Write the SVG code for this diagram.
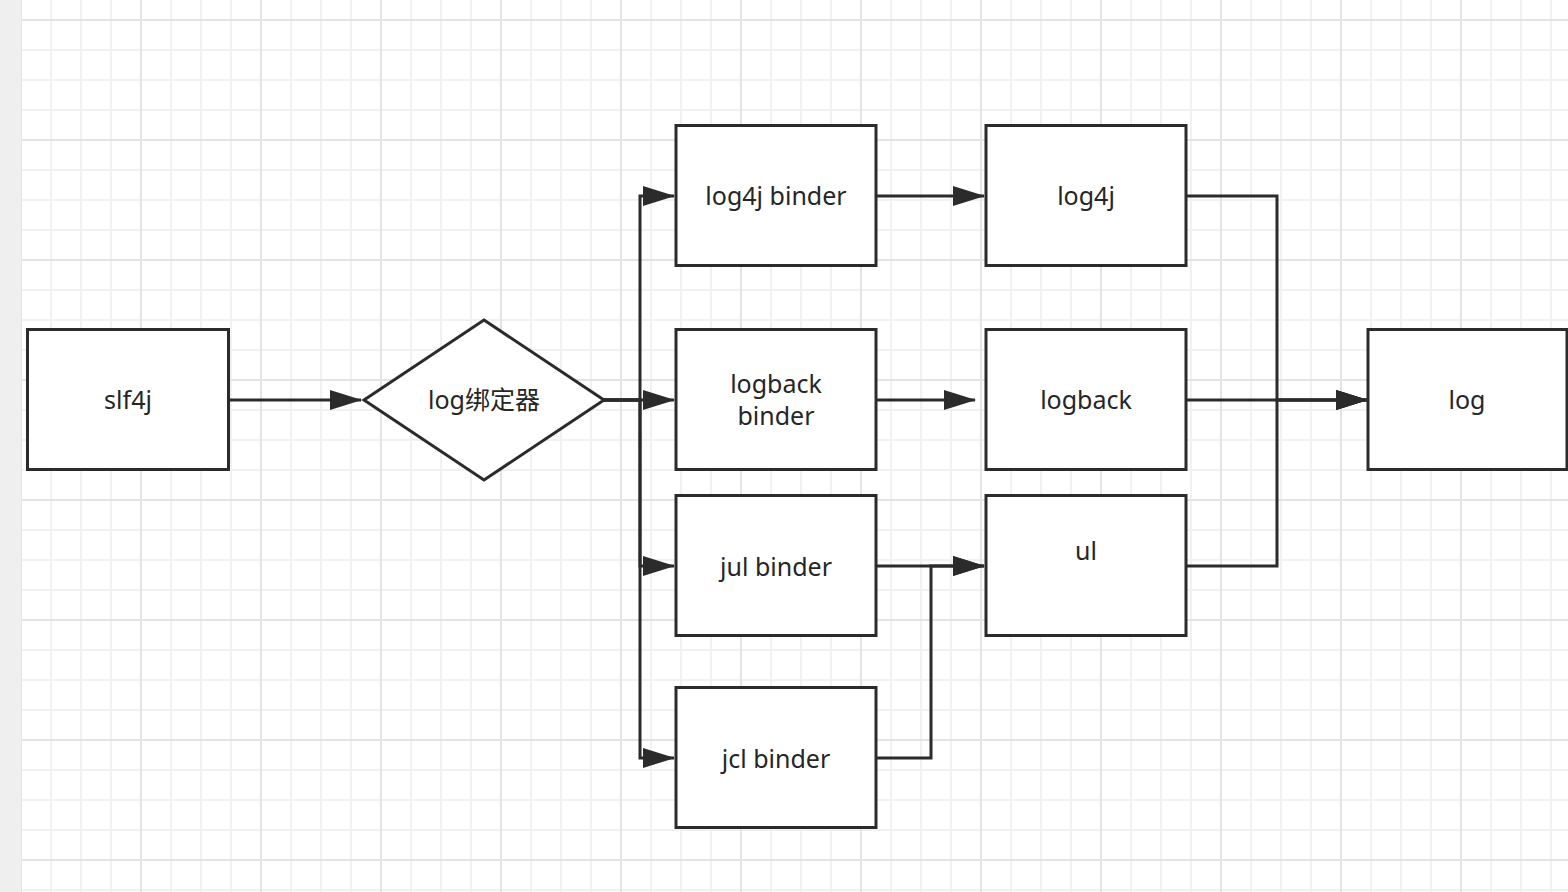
<svg xmlns="http://www.w3.org/2000/svg" width="1568" height="892" viewBox="0 0 1568 892">
<style>
.box{fill:#fff;stroke:#2b2b2b;stroke-width:3}
.lbl{font-family:"Noto Sans","Noto Sans CJK SC",sans-serif;font-size:25px;fill:#262626;text-anchor:middle}
.edge{fill:none;stroke:#2b2b2b;stroke-width:3;stroke-linejoin:miter}
.arr{marker-end:url(#ah)}
</style>
<defs>
<pattern id="grid" patternUnits="userSpaceOnUse" x="20" y="19" width="120" height="120">
<rect x="0" y="0" width="120" height="120" fill="#fff"/>
<rect x="30" y="0" width="2" height="120" fill="#f1f1f1"/>
<rect x="60" y="0" width="2" height="120" fill="#f1f1f1"/>
<rect x="90" y="0" width="2" height="120" fill="#f1f1f1"/>
<rect x="0" y="30" width="120" height="2" fill="#f1f1f1"/>
<rect x="0" y="60" width="120" height="2" fill="#f1f1f1"/>
<rect x="0" y="90" width="120" height="2" fill="#f1f1f1"/>
<rect x="0" y="0" width="2" height="120" fill="#e4e4e4"/>
<rect x="0" y="0" width="120" height="2" fill="#e4e4e4"/>
</pattern>
<marker id="ah" viewBox="0 0 32 20" refX="31" refY="10" markerWidth="32" markerHeight="20" markerUnits="userSpaceOnUse" orient="auto">
<path d="M0,0 L32,10 L0,20 Z" fill="#2b2b2b"/>
</marker>
</defs>
<rect x="0" y="0" width="1568" height="892" fill="#fff"/>
<rect x="21" y="0" width="1547" height="892" fill="url(#grid)"/>
<rect x="0" y="0" width="21" height="892" fill="#efefef"/>

<g id="connectors">
<path class="edge arr" d="M228,400 H361"/>
<path class="edge arr" d="M603,400 H640 V196 H674"/>
<path class="edge arr" d="M603,400 H674"/>
<path class="edge arr" d="M603,400 H640 V566 H674"/>
<path class="edge arr" d="M603,400 H640 V758 H674"/>
<path class="edge arr" d="M876,196 H984"/>
<path class="edge arr" d="M876,400 H975"/>
<path class="edge arr" d="M876,566 H984"/>
<path class="edge arr" d="M876,758 H931 V566 H984"/>
<path class="edge arr" d="M1186,196 H1277 V400 H1367"/>
<path class="edge arr" d="M1186,400 H1367"/>
<path class="edge arr" d="M1186,566 H1277 V400 H1367"/>
</g>

<g id="slf4j"><rect class="box" x="27.5" y="329.5" width="201" height="140"/><text class="lbl" x="128" y="409">slf4j</text></g>
<g id="binder-decision"><polygon class="box" points="484,320 604,400 484,480 364,400"/><text class="lbl" x="484" y="409">log绑定器</text></g>
<g id="log4j-binder"><rect class="box" x="676" y="125.5" width="200" height="140"/><text class="lbl" x="776" y="205">log4j binder</text></g>
<g id="logback-binder"><rect class="box" x="676" y="329.5" width="200" height="140"/><text class="lbl" x="776" y="393">logback</text><text class="lbl" x="776" y="425">binder</text></g>
<g id="jul-binder"><rect class="box" x="676" y="495.5" width="200" height="140"/><text class="lbl" x="776" y="576">jul binder</text></g>
<g id="jcl-binder"><rect class="box" x="676" y="687.5" width="200" height="140"/><text class="lbl" x="776" y="768">jcl binder</text></g>
<g id="log4j"><rect class="box" x="986" y="125.5" width="200" height="140"/><text class="lbl" x="1086" y="205">log4j</text></g>
<g id="logback"><rect class="box" x="986" y="329.5" width="200" height="140"/><text class="lbl" x="1086" y="409">logback</text></g>
<g id="ul"><rect class="box" x="986" y="495.5" width="200" height="140"/><text class="lbl" x="1086" y="560">ul</text></g>
<g id="log"><rect class="box" x="1368" y="329.5" width="199" height="140"/><text class="lbl" x="1467" y="409">log</text></g>
</svg>
